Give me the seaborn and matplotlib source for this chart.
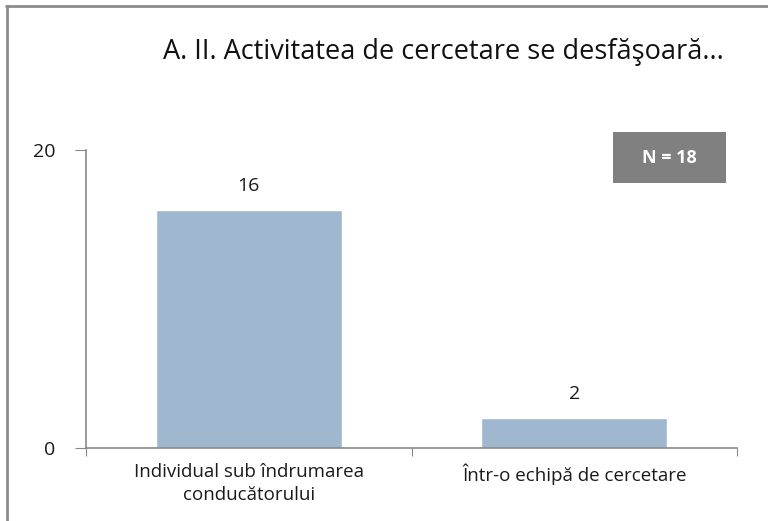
import matplotlib
matplotlib.use("Agg")
import matplotlib.pyplot as plt
import seaborn as sns
import pandas as pd
from matplotlib.lines import Line2D
from matplotlib.patches import Rectangle

# data
categories = ["Individual sub îndrumarea\nconducătorului", "Într-o echipă de cercetare"]
counts = [16, 2]
title = "A. II. Activitatea de cercetare se desfăşoară..."
n_label = "N = 18"

sns.set_style("white")
plt.rcParams["font.family"] = ["Open Sans", "DejaVu Sans"]

df = pd.DataFrame({"cat": categories, "n": counts})

W, H = 768, 521
fig = plt.figure(figsize=(W / 100, H / 100), dpi=100)
ax = fig.add_axes([86 / W, 1 - 448 / H, (737 - 86) / W, (448 - 150) / H])

sns.barplot(data=df, x="cat", y="n", color="#a0b8cf", saturation=1, width=0.57, ax=ax)

# value labels over bars
for i, v in enumerate(counts):
    ax.text(i, v + 1.0, str(v), ha="center", va="bottom", fontsize=14, color="#1a1a1a")

ax.set_ylim(0, 20)
ax.set_xlim(-0.5, 1.5)
ax.set_yticks([0, 20])
ax.set_xlabel("")
ax.set_ylabel("")

# tick marks at category boundaries, labels centred under the bars
ax.set_xticks([-0.5, 0.5, 1.5], minor=False)
ax.set_xticklabels(["", "", ""])
ax.set_xticks([0, 1], minor=True)
ax.set_xticklabels(categories, minor=True, fontsize=13.5, color="#1a1a1a", linespacing=1.35)
ax.tick_params(axis="x", which="minor", length=0, pad=11)
ax.tick_params(axis="x", which="major", length=6, color="#888888", direction="out", bottom=True)
ax.tick_params(axis="y", length=8, color="#888888", direction="out", labelsize=14,
               labelcolor="#1a1a1a", pad=14, left=True)

for s in ["top", "right"]:
    ax.spines[s].set_visible(False)
for s in ["left", "bottom"]:
    ax.spines[s].set_color("#888888")
    ax.spines[s].set_linewidth(1.2)

fig.text(443 / W, 1 - 52 / H, title, ha="center", va="center", fontsize=19.5, color="#111111")

# N box
fig.add_artist(Rectangle((613 / W, 1 - 183 / H), (726 - 613) / W, (183 - 132) / H,
                         transform=fig.transFigure, facecolor="#808080", edgecolor="none"))
fig.text(669.5 / W, 1 - 158 / H, n_label, ha="center", va="center", fontsize=13,
         fontweight="bold", color="white")

# outer frame (only left and top edges are visible)
fig.add_artist(Line2D([7 / W, 7 / W], [0, 1 - 6 / H], transform=fig.transFigure,
                      color="#8c8c8c", lw=2))
fig.add_artist(Line2D([6 / W, 1], [1 - 6 / H, 1 - 6 / H], transform=fig.transFigure,
                      color="#8c8c8c", lw=2))

fig.savefig("out.png", dpi=100)
